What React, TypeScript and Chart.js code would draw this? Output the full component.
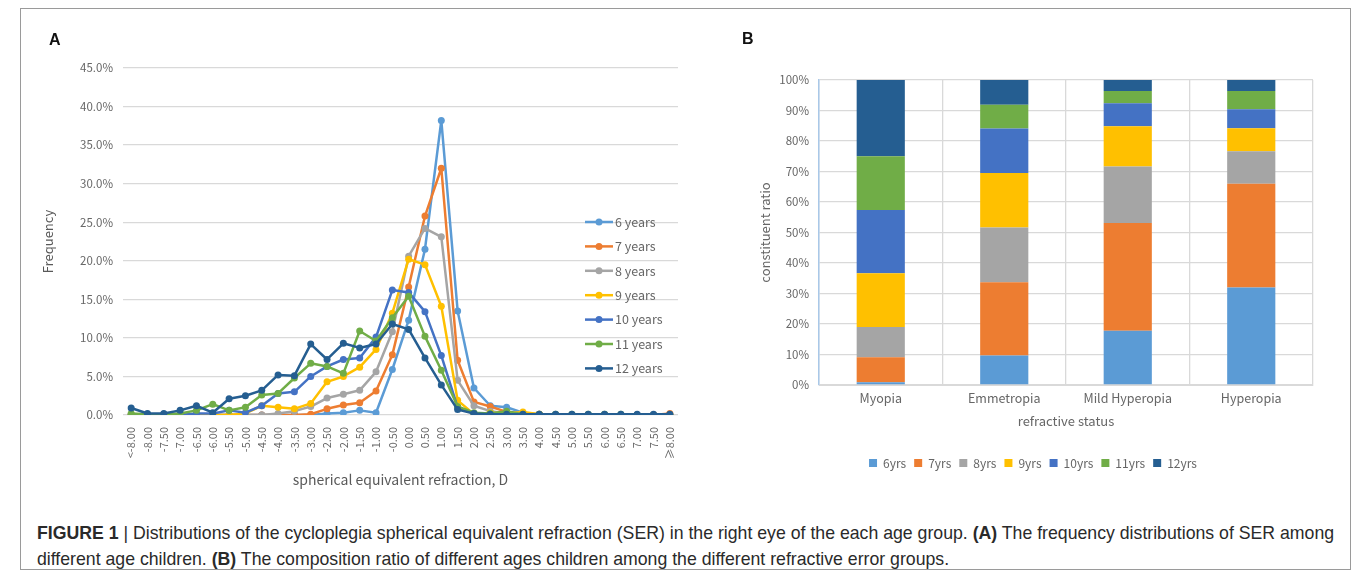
import React, { useEffect, useRef } from "react";
import { Chart, registerables } from "chart.js";

Chart.register(...registerables);

// ---------- Panel A data ----------
const serCategories = [
  "<-8.00", "-8.00", "-7.50", "-7.00", "-6.50", "-6.00", "-5.50", "-5.00", "-4.50", "-4.00",
  "-3.50", "-3.00", "-2.50", "-2.00", "-1.50", "-1.00", "-0.50", "0.00", "0.50", "1.00",
  "1.50", "2.00", "2.50", "3.00", "3.50", "4.00", "4.50", "5.00", "5.50", "6.00",
  "6.50", "7.00", "7.50", "≥8.00",
];
const freq6 = [0, 0, 0, 0, 0, 0, 0, 0, 0, 0, 0, 0, 0.2, 0.3, 0.6, 0.3, 5.9, 12.3, 21.5, 38.2, 13.5, 3.5, 1.2, 1.0, 0.3, 0.1, 0, 0, 0, 0, 0, 0, 0, 0];
const freq7 = [0, 0, 0, 0, 0, 0, 0, 0, 0, 0, 0, 0.1, 0.8, 1.3, 1.6, 3.1, 7.8, 16.6, 25.8, 32.0, 7.1, 1.7, 1.1, 0.4, 0.2, 0.1, 0, 0, 0, 0, 0, 0, 0, 0.2];
const freq8 = [0, 0, 0, 0, 0, 0, 0, 0, 0, 0.2, 0.5, 1.1, 2.2, 2.7, 3.2, 5.6, 10.8, 20.6, 24.2, 23.1, 4.5, 1.2, 0.5, 0.2, 0.1, 0, 0, 0, 0, 0, 0, 0, 0, 0];
const freq9 = [0, 0, 0, 0, 0, 0, 0, 0.2, 1.2, 1.0, 0.8, 1.5, 4.3, 5.0, 6.2, 8.5, 13.2, 20.2, 19.5, 14.1, 1.9, 0.1, 0.3, 0.2, 0.4, 0.1, 0, 0, 0, 0, 0, 0, 0, 0];
const freq10 = [0, 0, 0, 0, 0.2, 0.2, 0.6, 0.3, 1.2, 2.8, 3.0, 5.0, 6.3, 7.2, 7.4, 10.1, 16.2, 15.9, 13.4, 7.7, 1.0, 0.2, 0.1, 0.1, 0, 0, 0, 0, 0, 0, 0, 0, 0, 0];
const freq11 = [0.2, 0.1, 0.1, 0.2, 0.6, 1.4, 0.6, 1.0, 2.6, 2.8, 4.8, 6.7, 6.3, 5.4, 10.9, 9.6, 12.6, 15.4, 10.2, 5.8, 1.1, 0.3, 0.2, 0.5, 0.1, 0.1, 0.1, 0.1, 0.1, 0.1, 0.1, 0, 0, 0];
const freq12 = [0.9, 0.2, 0.2, 0.6, 1.2, 0.3, 2.1, 2.5, 3.2, 5.2, 5.1, 9.2, 7.2, 9.3, 8.7, 9.2, 11.8, 11.1, 7.4, 3.9, 0.7, 0.2, 0.1, 0.1, 0.1, 0.1, 0.1, 0.1, 0.1, 0.1, 0.1, 0.1, 0.1, 0.1];
const ageLabelsA = ["6 years", "7 years", "8 years", "9 years", "10 years", "11 years", "12 years"];

// ---------- Panel B data ----------
const statuses = ["Myopia", "Emmetropia", "Mild Hyperopia", "Hyperopia"];
const ratio6 = [0.9, 9.7, 17.8, 32.0];
const ratio7 = [8.2, 24.0, 35.3, 34.0];
const ratio8 = [9.9, 17.9, 18.5, 10.6];
const ratio9 = [17.6, 17.9, 13.2, 7.6];
const ratio10 = [20.8, 14.6, 7.6, 6.2];
const ratio11 = [17.6, 7.8, 4.0, 6.0];
const ratio12 = [25.0, 8.1, 3.6, 3.6];
const ageLabelsB = ["6yrs", "7yrs", "8yrs", "9yrs", "10yrs", "11yrs", "12yrs"];

const palette = ["#5B9BD5", "#ED7D31", "#A5A5A5", "#FFC000", "#4472C4", "#70AD47", "#255E91"];
const TXT = "#666666";
const GRID = "#D9D9D9";
const FONT = "'Noto Sans CJK SC', 'Noto Sans', sans-serif";

const legendA = {
  id: "legendA",
  afterDraw(chart: any) {
    const ctx = chart.ctx;
    const ca = chart.chartArea;
    ctx.save();
    chart.data.datasets.forEach((ds: any, i: number) => {
      const y = ca.top + 154 + i * 24.4;
      const x0 = ca.right - 93;
      ctx.strokeStyle = ds.borderColor;
      ctx.lineWidth = 2.5;
      ctx.beginPath();
      ctx.moveTo(x0, y);
      ctx.lineTo(x0 + 28, y);
      ctx.stroke();
      ctx.fillStyle = ds.borderColor;
      ctx.beginPath();
      ctx.arc(x0 + 14, y, 3.5, 0, Math.PI * 2);
      ctx.fill();
      ctx.fillStyle = TXT;
      ctx.font = `12.5px ${FONT}`;
      ctx.textBaseline = "middle";
      ctx.textAlign = "left";
      ctx.fillText(ds.label, x0 + 30, y);
    });
    ctx.restore();
  },
};

function PanelA() {
  const ref = useRef<HTMLCanvasElement>(null);
  useEffect(() => {
    const series = [freq6, freq7, freq8, freq9, freq10, freq11, freq12];
    const chart = new Chart(ref.current!, {
      type: "line",
      data: {
        labels: serCategories,
        datasets: series.map((d, i) => ({
          label: ageLabelsA[i],
          data: d,
          borderColor: palette[i],
          backgroundColor: palette[i],
          pointBackgroundColor: palette[i],
          pointBorderWidth: 0,
          pointRadius: 3.5,
          borderWidth: 2.5,
          borderJoinStyle: "round",
          tension: 0,
          order: 6 - i,
        })),
      },
      options: {
        responsive: false,
        animation: false,
        layout: { padding: { left: 36, top: 68, right: 22, bottom: 8 } },
        plugins: { legend: { display: false }, tooltip: { enabled: false } },
        scales: {
          x: {
            offset: true,
            grid: { display: false },
            border: { display: false },
            ticks: {
              autoSkip: false,
              maxRotation: 90,
              minRotation: 90,
              padding: 4,
              color: TXT,
              font: { family: FONT, size: 11 },
            },
            title: {
              display: true,
              text: "spherical equivalent refraction, D",
              color: "#595959",
              font: { family: FONT, size: 14 },
              padding: { top: 4, bottom: 4 },
            },
            afterFit(scale: any) {
              scale.height = 77;
            },
          },
          y: {
            min: 0,
            max: 45,
            border: { display: false },
            grid: { color: GRID, lineWidth: 1.3, drawTicks: false },
            ticks: {
              stepSize: 5,
              padding: 10,
              color: TXT,
              font: { family: FONT, size: 11.5 },
              callback: (v: any) => Number(v).toFixed(1) + "%",
            },
            title: {
              display: true,
              text: "Frequency",
              color: "#595959",
              font: { family: FONT, size: 13 },
              padding: { top: 4, bottom: 4 },
            },
            afterFit(scale: any) {
              scale.width = 87;
            },
          },
        },
      },
      plugins: [legendA],
    });
    return () => chart.destroy();
  }, []);
  return (
    <canvas
      ref={ref}
      width={700}
      height={500}
      style={{ position: "absolute", left: 0, top: 0, width: 700, height: 500 }}
    />
  );
}

function PanelB() {
  const ref = useRef<HTMLCanvasElement>(null);
  useEffect(() => {
    const series = [ratio6, ratio7, ratio8, ratio9, ratio10, ratio11, ratio12];
    const chart = new Chart(ref.current!, {
      type: "bar",
      data: {
        labels: statuses,
        datasets: series.map((d, i) => ({
          label: ageLabelsB[i],
          data: d,
          backgroundColor: palette[i],
          borderWidth: 0,
          categoryPercentage: 1,
          barPercentage: 0.39,
        })),
      },
      options: {
        responsive: false,
        animation: false,
        layout: { padding: { left: 13, top: 60, right: 37, bottom: 21 } },
        plugins: {
          tooltip: { enabled: false },
          legend: {
            position: "bottom",
            labels: {
              boxWidth: 8,
              boxHeight: 8,
              padding: 8,
              color: TXT,
              font: { family: FONT, size: 12 },
            },
          },
        },
        scales: {
          x: {
            stacked: true,
            grid: { color: GRID, lineWidth: 1.3, drawTicks: false, offset: true },
            border: { color: GRID },
            ticks: { padding: 6, color: TXT, font: { family: FONT, size: 12.5 } },
            title: {
              display: true,
              text: "refractive status",
              color: TXT,
              font: { family: FONT, size: 13 },
              padding: { top: 4, bottom: 20 },
            },
            afterFit(scale: any) {
              scale.height = 64;
            },
          },
          y: {
            stacked: true,
            min: 0,
            max: 100,
            border: { color: "#A9C8E8", width: 1.5 },
            grid: { color: GRID, lineWidth: 1.3, drawTicks: false },
            ticks: {
              stepSize: 10,
              padding: 10,
              color: TXT,
              font: { family: FONT, size: 11.5 },
              callback: (v: any) => v + "%",
            },
            title: {
              display: true,
              text: "constituent ratio",
              color: TXT,
              font: { family: FONT, size: 13 },
              padding: { top: 4, bottom: 4 },
            },
            afterFit(scale: any) {
              scale.width = 66;
            },
          },
        },
      },
    });
    return () => chart.destroy();
  }, []);
  return (
    <canvas
      ref={ref}
      width={610}
      height={480}
      style={{ position: "absolute", left: 740, top: 20, width: 610, height: 480 }}
    />
  );
}

export default function App() {
  const capFont = "'Liberation Sans', Arial, sans-serif";
  return (
    <div
      style={{
        position: "absolute",
        left: 0,
        top: 0,
        width: 1357,
        height: 577,
        background: "#fff",
        overflow: "hidden",
      }}
    >
      <div
        style={{
          position: "absolute",
          left: 20,
          top: 8,
          width: 1331,
          height: 562,
          border: "1px solid #9a9a9a",
          boxSizing: "border-box",
        }}
      />
      <PanelA />
      <PanelB />
      <div
        style={{
          position: "absolute",
          left: 49,
          top: 31,
          fontFamily: "'Liberation Sans', Arial, sans-serif",
          fontWeight: "bold",
          fontSize: 16,
          color: "#111",
        }}
      >
        A
      </div>
      <div
        style={{
          position: "absolute",
          left: 742,
          top: 30,
          fontFamily: "'Liberation Sans', Arial, sans-serif",
          fontWeight: "bold",
          fontSize: 16,
          color: "#111",
        }}
      >
        B
      </div>
      <div
        style={{
          position: "absolute",
          left: 37,
          top: 520,
          fontFamily: capFont,
          fontSize: 17.7,
          lineHeight: "26px",
          color: "#2a2a2a",
          whiteSpace: "nowrap",
        }}
      >
        <div>
          <b>FIGURE 1</b> | Distributions of the cycloplegia spherical equivalent refraction (SER) in the right eye of the each age group. <b>(A)</b> The frequency distributions of SER among
        </div>
        <div>
          different age children. <b>(B)</b> The composition ratio of different ages children among the different refractive error groups.
        </div>
      </div>
    </div>
  );
}
